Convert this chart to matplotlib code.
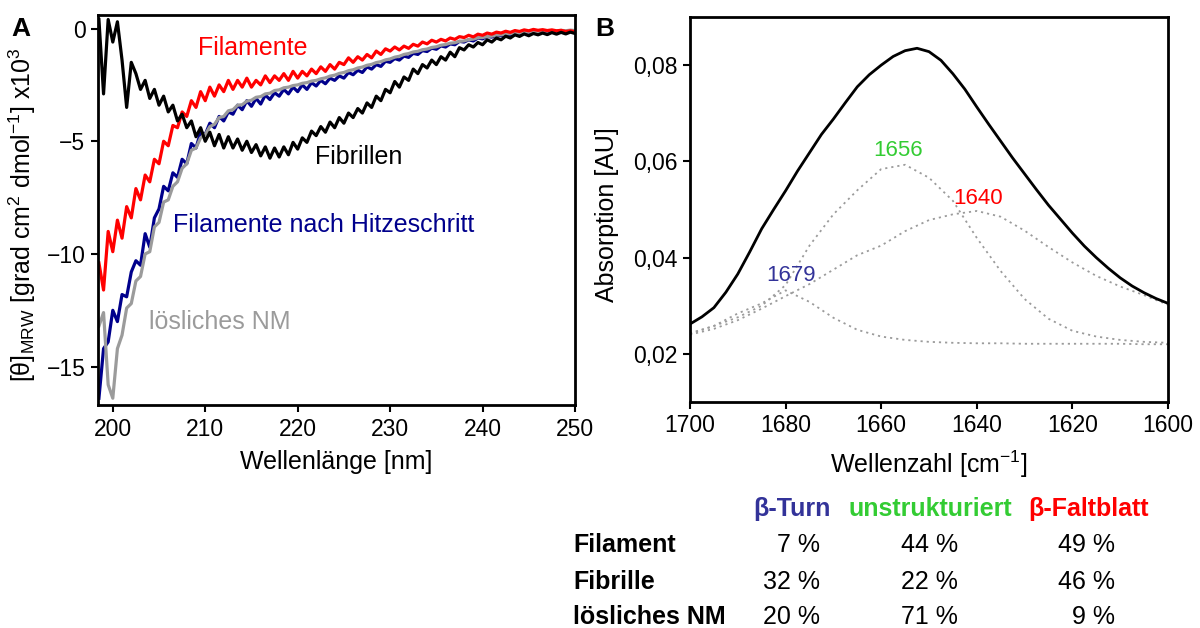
import numpy as np
import matplotlib
matplotlib.use("Agg")
import matplotlib.pyplot as plt
from matplotlib.ticker import FuncFormatter

# ---- panel A: CD spectra, [theta]_MRW x10^3, sampled every 0.5 nm from 198.5 to 250 nm
wavelength = np.arange(198.5, 250.01, 0.5)

filamente = [
    -10.4, -11.6, -9.0, -9.9, -8.5, -9.3, -7.9, -8.4,
    -7.1, -7.6, -6.5, -6.8, -5.8, -6.0, -5.0, -5.2,
    -4.3, -4.4, -3.7, -3.9, -3.2, -3.5, -2.8, -3.2,
    -2.6, -3.0, -2.5, -2.8, -2.3, -2.7, -2.3, -2.6,
    -2.2, -2.6, -2.3, -2.5, -2.1, -2.4, -2.1, -2.3,
    -2.0, -2.3, -1.9, -2.2, -1.9, -2.1, -1.8, -2.0,
    -1.7, -1.9, -1.6, -1.8, -1.5, -1.6, -1.3, -1.5,
    -1.25, -1.4, -1.15, -1.3, -1.0, -1.15, -0.9, -1.0,
    -0.82, -0.95, -0.78, -0.88, -0.7, -0.78, -0.6, -0.68,
    -0.52, -0.6, -0.48, -0.55, -0.42, -0.48, -0.36, -0.4,
    -0.3, -0.37, -0.25, -0.3, -0.2, -0.25, -0.16, -0.2,
    -0.12, -0.17, -0.09, -0.13, -0.06, -0.1, -0.04, -0.08,
    -0.05, -0.09, -0.06, -0.1, -0.08, -0.13, -0.1, -0.14,
]

filamente_hitze = [
    -16.4, -14.2, -13.9, -12.5, -13.0, -11.8, -11.9, -10.8,
    -10.3, -10.5, -9.1, -9.7, -8.4, -8.0, -7.0, -7.2,
    -6.4, -6.6, -5.8, -6.0, -5.1, -5.3, -4.6, -4.7,
    -4.2, -4.4, -3.9, -4.1, -3.7, -3.8, -3.4, -3.6,
    -3.2, -3.45, -3.1, -3.35, -2.95, -3.15, -2.85, -3.0,
    -2.7, -2.9, -2.6, -2.8, -2.5, -2.7, -2.4, -2.55,
    -2.3, -2.45, -2.2, -2.3, -2.1, -2.2, -1.95, -2.05,
    -1.85, -1.95, -1.7, -1.8, -1.6, -1.68, -1.45, -1.5,
    -1.33, -1.4, -1.22, -1.28, -1.1, -1.15, -0.98, -1.02,
    -0.87, -0.92, -0.77, -0.82, -0.68, -0.72, -0.57, -0.6,
    -0.5, -0.55, -0.42, -0.46, -0.35, -0.38, -0.29, -0.32,
    -0.25, -0.28, -0.2, -0.24, -0.17, -0.2, -0.14, -0.17,
    -0.13, -0.16, -0.12, -0.15, -0.11, -0.14, -0.11, -0.13,
]

loesliches_nm = [
    -13.2, -12.6, -15.8, -16.4, -14.2, -13.6, -12.4, -12.2,
    -11.2, -11.0, -10.0, -9.9, -8.8, -8.6, -7.7, -7.6,
    -7.0, -6.8, -6.2, -6.0, -5.4, -5.3, -4.85, -4.7,
    -4.35, -4.25, -3.95, -3.9, -3.65, -3.6, -3.4, -3.38,
    -3.22, -3.18, -3.05, -3.02, -2.9, -2.87, -2.75, -2.72,
    -2.63, -2.6, -2.53, -2.5, -2.43, -2.4, -2.33, -2.3,
    -2.23, -2.19, -2.11, -2.07, -1.99, -1.95, -1.87, -1.83,
    -1.75, -1.71, -1.63, -1.59, -1.51, -1.47, -1.39, -1.35,
    -1.27, -1.23, -1.15, -1.11, -1.04, -1.01, -0.94, -0.91,
    -0.84, -0.81, -0.74, -0.71, -0.65, -0.63, -0.57, -0.55,
    -0.49, -0.47, -0.41, -0.4, -0.35, -0.34, -0.29, -0.28,
    -0.24, -0.23, -0.2, -0.2, -0.16, -0.16, -0.13, -0.13,
    -0.11, -0.12, -0.09, -0.11, -0.08, -0.1, -0.07, -0.09,
]

fibrillen = [
    0.4, -2.9, 0.4, -0.6, 0.3, -1.4, -3.5, -1.5,
    -2.0, -2.7, -2.3, -3.1, -2.7, -3.4, -3.0, -3.7,
    -3.4, -4.1, -3.8, -4.4, -4.1, -4.8, -4.4, -5.0,
    -4.6, -5.2, -4.7, -5.3, -4.8, -5.3, -4.9, -5.4,
    -5.0, -5.5, -5.15, -5.65, -5.25, -5.75, -5.3, -5.7,
    -5.25, -5.6, -5.05, -5.35, -4.85, -5.05, -4.55, -4.75,
    -4.35, -4.6, -4.15, -4.4, -3.95, -4.2, -3.75, -3.95,
    -3.55, -3.75, -3.3, -3.5, -3.0, -3.2, -2.7, -2.85,
    -2.35, -2.6, -2.15, -2.3, -1.8, -2.0, -1.6, -1.75,
    -1.4, -1.6, -1.25, -1.4, -1.05, -1.25, -0.85, -0.95,
    -0.72, -0.82, -0.62, -0.72, -0.5, -0.6, -0.42, -0.5,
    -0.34, -0.42, -0.28, -0.35, -0.24, -0.32, -0.22, -0.28,
    -0.2, -0.27, -0.18, -0.25, -0.17, -0.24, -0.16, -0.22,
]

# ---- panel B: FTIR amide I band
wavenumber = np.arange(1700, 1599.9, -2.5)
absorption = [
    0.0262, 0.0277, 0.0296, 0.0328, 0.0366, 0.0412, 0.0460, 0.0500,
    0.0539, 0.0580, 0.0618, 0.0656, 0.0688, 0.0722, 0.0755, 0.0780,
    0.0800, 0.0818, 0.0830, 0.0835, 0.0828, 0.0810, 0.0782, 0.0750,
    0.0713, 0.0677, 0.0642, 0.0607, 0.0574, 0.0541, 0.0509, 0.0480,
    0.0451, 0.0424, 0.0400, 0.0378, 0.0358, 0.0341, 0.0327, 0.0315,
    0.0305,
]

wavenumber_fit = np.arange(1700, 1599.9, -5)
band_1679 = [0.0242, 0.0258, 0.0284, 0.0305, 0.0332, 0.0308, 0.0275, 0.0250,
             0.0236, 0.0229, 0.0225, 0.0223, 0.0222, 0.0222, 0.0221, 0.0221,
             0.0221, 0.0221, 0.0221, 0.0220, 0.0220]
band_1656 = [0.0243, 0.0258, 0.0276, 0.0300, 0.0343, 0.0425, 0.0490, 0.0540,
             0.0584, 0.0593, 0.0566, 0.0518, 0.0441, 0.0372, 0.0314, 0.0273,
             0.0248, 0.0236, 0.0229, 0.0225, 0.0223]
band_1640 = [0.0240, 0.0252, 0.0270, 0.0294, 0.0320, 0.0345, 0.0375, 0.0405,
             0.0425, 0.0455, 0.0478, 0.0490, 0.0497, 0.0485, 0.0456, 0.0422,
             0.0390, 0.0362, 0.0340, 0.0322, 0.0302]
band_labels = ["1679", "1656", "1640"]
band_label_pos = [(1678.8, 0.0362), (1656.5, 0.0622), (1639.7, 0.0522)]

# ---- table
table_columns = ["β-Turn", "unstrukturiert", "β-Faltblatt"]
table_rows = ["Filament", "Fibrille", "lösliches NM"]
table_values = [[7, 44, 49], [32, 22, 46], [20, 71, 9]]

RED = "#ff0000"
NAVY = "#00008c"
GREY = "#9b9b9b"
TURN_BLUE = "#333399"
GREEN = "#33cc33"

plt.rcParams['font.family'] = ['Liberation Sans', 'DejaVu Sans']
plt.rcParams['mathtext.fontset'] = 'custom'
plt.rcParams['mathtext.rm'] = 'Liberation Sans'
plt.rcParams['mathtext.it'] = 'Liberation Sans:italic'
plt.rcParams['mathtext.bf'] = 'Liberation Sans:bold'
plt.rcParams['axes.unicode_minus'] = True

W, H = 1200, 628
fig = plt.figure(figsize=(12, 6.28), dpi=100)


def px_box(left, top, right, bottom):
    return [left / W, 1 - bottom / H, (right - left) / W, (bottom - top) / H]


def style_axes(ax):
    for s in ax.spines.values():
        s.set_linewidth(2)
    ax.tick_params(direction='out', length=5, width=1.5, labelsize=16.5, pad=4)


# ---------------- panel A
axA = fig.add_axes(px_box(98, 15, 575, 405))
line_kw = dict(lw=2.3, solid_joinstyle='round')
axA.plot(wavelength, filamente_hitze, color=NAVY, **line_kw)
axA.plot(wavelength, loesliches_nm, color=GREY, **line_kw)
axA.plot(wavelength, filamente, color=RED, **line_kw)
axA.plot(wavelength, fibrillen, color='black', **line_kw)
axA.set_xlim(198.4, 250)
axA.set_ylim(-16.7, 0.6)
axA.set_xticks([200, 210, 220, 230, 240, 250])
axA.set_yticks([0, -5, -10, -15])
style_axes(axA)
axA.set_xlabel("Wellenlänge [nm]", fontsize=18)
axA.xaxis.set_label_coords(0.5, -0.115)
axA.set_ylabel("[θ]$_{\\mathrm{MRW}}$ [grad cm$^{2}$ dmol$^{-1}$] x10$^{3}$", fontsize=18)
axA.yaxis.set_label_coords(-0.125, 0.487)

axA.text(209.2, -0.85, "Filamente", color=RED, fontsize=18, va='center')
axA.text(221.9, -5.7, "Fibrillen", color='black', fontsize=18, va='center')
axA.text(206.5, -8.7, "Filamente nach Hitzeschritt", color=NAVY, fontsize=18, va='center')
axA.text(203.9, -13.0, "lösliches NM", color=GREY, fontsize=18, va='center')
fig.text(11 / W, 1 - 29 / H, "A", fontsize=19, fontweight='bold', va='center')

# ---------------- panel B
axB = fig.add_axes(px_box(690, 17, 1168, 402))
dotted = dict(color=GREY, lw=1.3, ls=(0, (1.2, 2.2)))
for band in (band_1679, band_1656, band_1640):
    axB.plot(wavenumber_fit, band, **dotted)
axB.plot(wavenumber, absorption, color='black', lw=2)
axB.set_xlim(1700, 1600)
axB.set_ylim(0.01, 0.09)
axB.set_xticks([1700, 1680, 1660, 1640, 1620, 1600])
axB.set_yticks([0.02, 0.04, 0.06, 0.08])
axB.yaxis.set_major_formatter(FuncFormatter(lambda v, p: f"{v:.2f}".replace('.', ',')))
style_axes(axB)
axB.set_xlabel("Wellenzahl [cm$^{-1}$]", fontsize=18)
axB.xaxis.set_label_coords(0.5, -0.12)
axB.set_ylabel("Absorption [AU]", fontsize=18)
axB.yaxis.set_label_coords(-0.148, 0.487)
for lab, (bx, by), col in zip(band_labels, band_label_pos, (TURN_BLUE, GREEN, RED)):
    axB.text(bx, by, lab, color=col, fontsize=16, ha='center', va='center')
fig.text(595 / W, 1 - 29 / H, "B", fontsize=19, fontweight='bold', va='center')

# ---------------- table
header_x = [792, 930, 1088]
header_colors = [TURN_BLUE, GREEN, RED]
value_right = [820, 958, 1115]
row_y = [545, 582, 617]
for name, hx, col in zip(table_columns, header_x, header_colors):
    fig.text(hx / W, 1 - 509 / H, name, color=col, fontsize=18, fontweight='bold',
             ha='center', va='center')
for name, ry, vals in zip(table_rows, row_y, table_values):
    fig.text(573 / W, 1 - ry / H, name, fontsize=18, fontweight='bold', va='center')
    for v, vx in zip(vals, value_right):
        fig.text(vx / W, 1 - ry / H, f"{v} %", fontsize=18, ha='right', va='center')

fig.savefig("out.png", dpi=100)
